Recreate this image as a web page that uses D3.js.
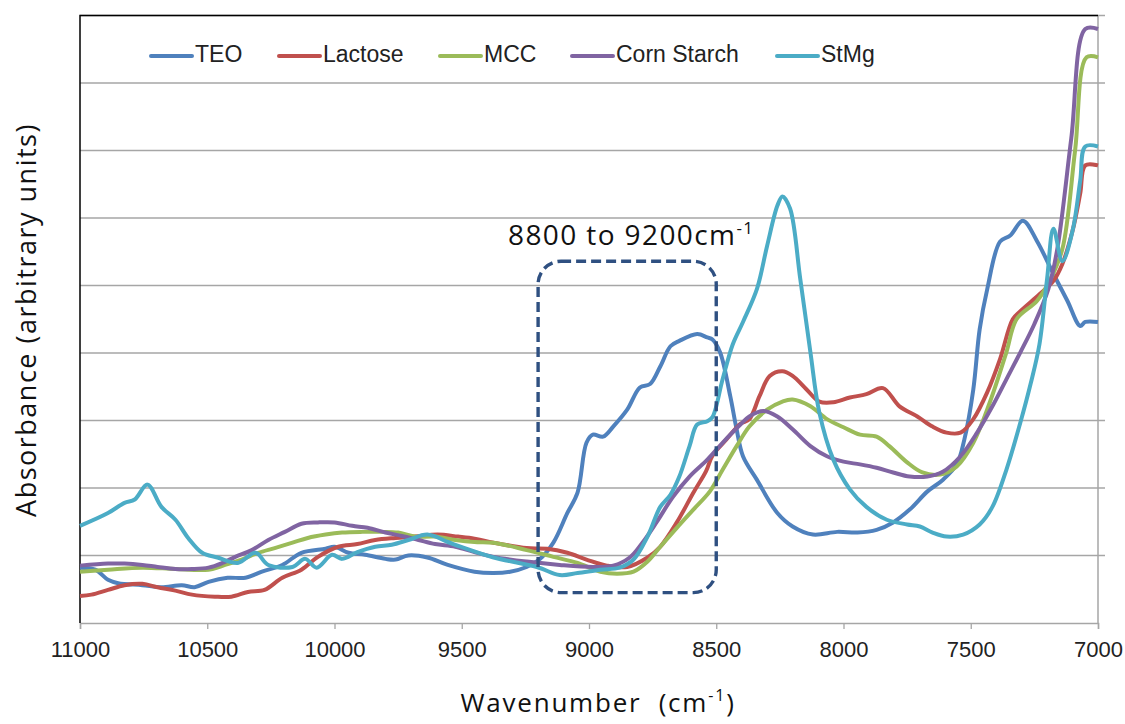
<!DOCTYPE html>
<html>
<head>
<meta charset="utf-8">
<script src="https://cdn.jsdelivr.net/npm/d3@7"></script>
<style>
  body { margin: 0; background: #fff; }
  svg { display: block; }
</style>
</head>
<body>
<script>
/*===========================================
    data
    [wavenumber cm-1, absorbance (arbitrary)]
============================================*/
const seriesNames = ['TEO', 'Lactose', 'MCC', 'Corn Starch', 'StMg'];

const teo = [[11000,0.82],[10940,0.79],[10890,0.64],[10850,0.59],[10755,0.56],[10680,0.53],[10600,0.56],[10550,0.53],[10495,0.61],[10420,0.67],[10350,0.67],[10285,0.76],[10205,0.86],[10130,1.04],[10035,1.10],[10000,1.13],[9945,1.04],[9880,1.01],[9800,0.95],[9760,0.94],[9710,1.00],[9635,0.97],[9555,0.86],[9450,0.76],[9375,0.74],[9310,0.76],[9245,0.83],[9195,0.94],[9140,1.19],[9085,1.63],[9045,1.93],[9010,2.67],[8985,2.79],[8945,2.76],[8905,2.91],[8850,3.16],[8800,3.49],[8760,3.54],[8720,3.80],[8680,4.10],[8645,4.18],[8575,4.28],[8535,4.23],[8515,4.20],[8485,4.01],[8445,3.36],[8420,2.87],[8395,2.47],[8340,2.12],[8260,1.63],[8200,1.43],[8120,1.31],[8025,1.35],[7945,1.34],[7870,1.38],[7805,1.49],[7740,1.68],[7670,1.95],[7610,2.12],[7555,2.35],[7525,2.72],[7490,3.46],[7465,4.35],[7435,4.95],[7385,5.65],[7345,5.74],[7295,5.96],[7240,5.66],[7175,5.17],[7120,4.77],[7070,4.40],[7050,4.46],[7000,4.46]];

const lactose = [[11000,0.40],[10955,0.42],[10890,0.49],[10825,0.56],[10755,0.58],[10695,0.53],[10625,0.48],[10560,0.42],[10470,0.39],[10405,0.39],[10340,0.46],[10275,0.49],[10205,0.67],[10130,0.79],[10065,0.98],[9985,1.13],[9910,1.17],[9840,1.23],[9760,1.26],[9685,1.28],[9595,1.31],[9515,1.28],[9450,1.25],[9375,1.19],[9245,1.11],[9165,1.10],[9085,1.04],[9010,0.94],[8930,0.85],[8850,0.83],[8770,0.97],[8720,1.13],[8655,1.49],[8590,1.93],[8540,2.25],[8515,2.48],[8460,2.72],[8405,2.95],[8370,3.02],[8330,3.36],[8290,3.66],[8240,3.73],[8200,3.66],[8145,3.46],[8095,3.28],[8040,3.27],[7975,3.34],[7910,3.39],[7845,3.48],[7780,3.21],[7710,3.06],[7650,2.91],[7595,2.82],[7540,2.82],[7490,3.02],[7435,3.42],[7385,3.91],[7335,4.50],[7305,4.62],[7230,4.87],[7175,5.07],[7140,5.32],[7100,5.81],[7070,6.36],[7050,6.78],[7000,6.78]];

const mcc = [[11000,0.76],[10890,0.79],[10755,0.82],[10625,0.80],[10495,0.79],[10430,0.86],[10365,0.94],[10300,1.04],[10235,1.11],[10165,1.19],[10105,1.26],[10035,1.31],[9970,1.34],[9890,1.35],[9815,1.35],[9750,1.34],[9685,1.28],[9605,1.28],[9525,1.23],[9450,1.20],[9375,1.19],[9245,1.08],[9140,0.98],[9045,0.89],[8955,0.76],[8890,0.73],[8825,0.76],[8770,0.91],[8720,1.13],[8655,1.41],[8590,1.68],[8525,1.95],[8475,2.27],[8420,2.62],[8370,2.91],[8300,3.16],[8240,3.28],[8200,3.31],[8130,3.21],[8065,3.02],[8000,2.90],[7935,2.79],[7870,2.76],[7820,2.62],[7750,2.38],[7690,2.23],[7620,2.20],[7555,2.32],[7490,2.67],[7425,3.27],[7360,4.01],[7320,4.50],[7240,4.77],[7190,5.07],[7140,5.54],[7090,7.00],[7045,8.38],[7000,8.38]];

const cornStarch = [[11000,0.85],[10890,0.88],[10825,0.88],[10755,0.86],[10695,0.83],[10625,0.80],[10560,0.80],[10495,0.82],[10440,0.89],[10390,0.98],[10325,1.08],[10260,1.23],[10195,1.35],[10130,1.47],[10065,1.49],[10000,1.49],[9930,1.44],[9870,1.41],[9800,1.34],[9735,1.29],[9670,1.23],[9605,1.17],[9525,1.13],[9450,1.05],[9375,0.98],[9245,0.91],[9115,0.86],[8985,0.83],[8905,0.85],[8840,0.97],[8790,1.19],[8735,1.49],[8670,1.87],[8605,2.17],[8535,2.42],[8475,2.67],[8405,2.94],[8370,3.06],[8315,3.14],[8260,3.06],[8200,2.87],[8130,2.62],[8065,2.47],[8000,2.39],[7935,2.35],[7870,2.30],[7805,2.23],[7740,2.17],[7670,2.17],[7610,2.24],[7540,2.47],[7475,2.82],[7415,3.21],[7360,3.61],[7305,4.01],[7250,4.43],[7195,4.95],[7160,5.54],[7105,7.18],[7050,8.80],[7000,8.80]];

const stmg = [[11000,1.44],[10890,1.63],[10825,1.78],[10785,1.83],[10735,2.05],[10680,1.72],[10625,1.53],[10575,1.26],[10520,1.04],[10460,0.97],[10380,0.89],[10310,1.04],[10260,0.86],[10165,0.83],[10115,0.95],[10070,0.82],[10010,1.01],[9970,0.95],[9910,1.05],[9840,1.13],[9775,1.16],[9710,1.23],[9635,1.31],[9555,1.20],[9505,1.13],[9375,0.97],[9205,0.83],[9115,0.71],[9045,0.74],[8955,0.79],[8880,0.82],[8825,0.94],[8770,1.28],[8720,1.72],[8680,1.90],[8645,2.17],[8605,2.62],[8575,2.94],[8535,2.99],[8515,3.05],[8475,3.61],[8435,4.13],[8395,4.46],[8340,4.95],[8300,5.59],[8260,6.18],[8240,6.32],[8210,6.14],[8170,5.10],[8130,4.01],[8095,3.12],[8040,2.42],[7975,1.98],[7910,1.72],[7830,1.53],[7750,1.46],[7700,1.43],[7650,1.34],[7595,1.28],[7530,1.31],[7465,1.46],[7415,1.72],[7360,2.27],[7305,2.97],[7265,3.54],[7230,4.13],[7200,5.10],[7175,5.84],[7140,5.36],[7100,5.81],[7070,6.55],[7050,7.06],[7000,7.06]];

const xTicks = [11000, 10500, 10000, 9500, 9000, 8500, 8000, 7500, 7000];
const yGrid = [0, 1, 2, 3, 4, 5, 6, 7, 8, 9];

// highlighted window and its label
const boxRange = [9200, 8500];
const boxLevels = [0.45, 5.36];
const boxLabel = '8800 to 9200cm';

const colors = ['#4f81bd', '#c0504d', '#9bbb59', '#8064a2', '#4bacc6'];

/*===========================================
    canvas + scales
============================================*/
const w = 1125, h = 724;
const mLeft = 80, mRight = 1098, mTop = 15.5, mBottom = 623;

const svg = d3.select('body').append('svg')
    .attr('width', w)
    .attr('height', h);

const x = d3.scaleLinear().domain([11000, 7000]).range([mLeft, mRight]);
const y = d3.scaleLinear().domain([0, 9]).range([mBottom, mTop]);

// gridlines (run a little past the right axis, like tick marks)
svg.append('g')
  .selectAll('line')
  .data(yGrid.slice(1))
  .join('line')
    .attr('x1', mLeft).attr('x2', mRight + 7)
    .attr('y1', d => y(d)).attr('y2', d => y(d))
    .attr('stroke', '#a6a6a6')
    .attr('stroke-width', 1.3);

// right (secondary) axis, grey, ticks only
svg.append('line')
    .attr('x1', mRight).attr('x2', mRight)
    .attr('y1', mTop).attr('y2', mBottom + 1)
    .attr('stroke', '#a6a6a6').attr('stroke-width', 1.5);

// bottom axis
const xAxis = svg.append('g')
    .attr('transform', `translate(0,${mBottom})`)
    .call(d3.axisBottom(x).tickValues(xTicks).tickSize(6).tickPadding(12).tickFormat(d3.format('d')));
xAxis.select('.domain').attr('stroke', '#a6a6a6').attr('stroke-width', 1.5);
xAxis.selectAll('.tick line').attr('stroke', '#a6a6a6').attr('stroke-width', 1.3);
xAxis.selectAll('.tick text')
    .attr('font-family', '"Liberation Sans", Arial, sans-serif')
    .attr('font-size', 22)
    .attr('fill', '#222');

// black frame on top and left
svg.append('path')
    .attr('d', `M${mLeft},${mBottom} V${mTop} H${mRight}`)
    .attr('fill', 'none')
    .attr('stroke', '#000')
    .attr('stroke-width', 1.5);

/*===========================================
    spectra
============================================*/
const line = d3.line()
    .x(d => x(d[0]))
    .y(d => y(d[1]))
    .curve(d3.curveCatmullRom.alpha(0.5));

const allSeries = [teo, lactose, mcc, cornStarch, stmg];

svg.append('g')
  .selectAll('path')
  .data(allSeries)
  .join('path')
    .attr('d', line)
    .attr('fill', 'none')
    .attr('stroke', (d, i) => colors[i])
    .attr('stroke-width', 4)
    .attr('stroke-linejoin', 'round');

// dashed highlight box
svg.append('rect')
    .attr('x', x(boxRange[0]))
    .attr('y', y(boxLevels[1]))
    .attr('width', x(boxRange[1]) - x(boxRange[0]))
    .attr('height', y(boxLevels[0]) - y(boxLevels[1]))
    .attr('rx', 23).attr('ry', 23)
    .attr('fill', 'none')
    .attr('stroke', '#2f5081')
    .attr('stroke-width', 3.4)
    .attr('stroke-dasharray', '10,5');

const ann = svg.append('text')
    .attr('x', 508).attr('y', 245)
    .attr('font-family', '"Open Sans", sans-serif')
    .attr('font-size', 28)
    .attr('letter-spacing', 1.4)
    .attr('fill', '#111')
    .text(boxLabel);
ann.append('tspan').attr('dy', -11).attr('font-size', 17).text('-1');

/*===========================================
    legend
============================================*/
const legendX = [151, 279, 440, 572, 777];
const lg = svg.append('g')
  .selectAll('g')
  .data(seriesNames)
  .join('g')
    .attr('transform', (d, i) => `translate(${legendX[i]},56)`);

lg.append('line')
    .attr('x1', 0).attr('x2', 41)
    .attr('stroke', (d, i) => colors[i])
    .attr('stroke-width', 4)
    .attr('stroke-linecap', 'round');

lg.append('text')
    .attr('x', 44).attr('y', 6)
    .attr('font-family', '"Liberation Sans", Arial, sans-serif')
    .attr('font-size', 23)
    .attr('fill', '#222')
    .text(d => d);

/*===========================================
    axis titles
============================================*/
const xt = svg.append('text')
    .attr('x', 598).attr('y', 712)
    .attr('text-anchor', 'middle')
    .attr('font-family', '"Open Sans", sans-serif')
    .attr('font-size', 26)
    .attr('letter-spacing', 1.8)
    .attr('fill', '#111')
    .style('white-space', 'pre');
xt.append('tspan').text('Wavenumber  (cm');
xt.append('tspan').attr('dy', -11).attr('font-size', 16).text('-1');
xt.append('tspan').attr('dy', 11).text(')');

svg.append('text')
    .attr('transform', 'translate(36,320) rotate(-90)')
    .attr('text-anchor', 'middle')
    .attr('font-family', '"Open Sans", sans-serif')
    .attr('font-size', 27)
    .attr('letter-spacing', 1.5)
    .attr('fill', '#111')
    .text('Absorbance (arbitrary units)');
</script>
</body>
</html>
